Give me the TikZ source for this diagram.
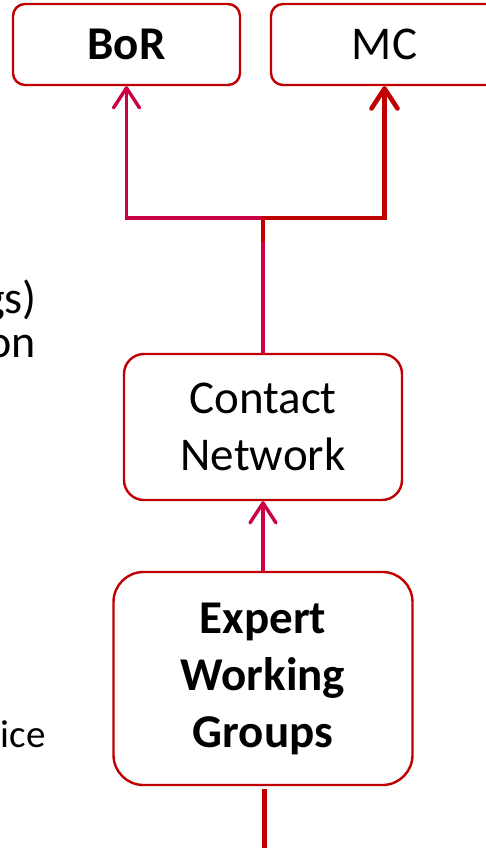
\documentclass[tikz,border=0pt]{standalone}
\usepackage{fontspec}
\setmainfont{Carlito}
\usepackage{tikz}
\usetikzlibrary{arrows.meta, positioning}

\definecolor{boxred}{RGB}{192,0,0}
\definecolor{linkpink}{RGB}{204,0,68}

\tikzset{
  box/.style={draw=boxred, line width=2.4pt, fill=white, align=center,
    inner sep=0pt, font=\fontsize{47}{57}\selectfont},
  boldbox/.style={box, font=\bfseries\fontsize{47}{57}\selectfont},
  sidetext/.style={inner sep=0pt, font=\fontsize{46}{44}\selectfont},
  barb/.style={-{Straight Barb[length=20pt,width=26pt,round]},
    line cap=round},
  pinklink/.style={draw=linkpink, line width=3.4pt, barb},
  redlink/.style={draw=boxred, line width=4.6pt, line join=miter},
}

\begin{document}
\begin{tikzpicture}[x=1pt, y=-1pt, node distance=250pt, on grid]
   \useasboundingbox (0,0) rectangle (485,848);

   \node[boldbox, rounded corners=30pt, minimum width=299pt,
         minimum height=213pt] (ewg) at (263,678.5) {Expert\\Working\\Groups};
   \node[box, rounded corners=20pt, minimum width=278pt, minimum height=146pt]
        (cn) [above=251.5pt of ewg] {Contact\\Network};
   \node[boldbox, rounded corners=12pt, minimum width=227pt, minimum height=81pt]
        (bor) [above left=382.5pt and 136.5pt of cn] {BoR};
   \node[box, rounded corners=12pt, minimum width=227pt, minimum height=81pt]
        (mc) [right=258pt of bor] {MC};

   \coordinate (split) at (263,218);
   \coordinate (stub) at (263,240);
   \coordinate (feed) at (264.5,860);

   % left-hand text, cut off by the page edge
   \node[sidetext, anchor=base east] (gs) at (37,313) {gs)};
   \node[sidetext, anchor=base east] (on) at (36,357) {on};
   \node[sidetext, anchor=base east, font=\fontsize{39}{44}\selectfont]
        (ice) at (46,747) {ice};

   % From the working groups
   \draw[pinklink] (ewg.north) -- (cn.south);
   % From the contact network
   \draw[pinklink] (cn.north) -- (split) -| (bor.south);
   \draw[redlink, barb] (stub) -- (split) -| (mc.south);
   % Feed from below
   \draw[redlink, line width=5pt] ([xshift=1.5pt,yshift=-3pt]ewg.south) -- (feed);
\end{tikzpicture}
\end{document}
